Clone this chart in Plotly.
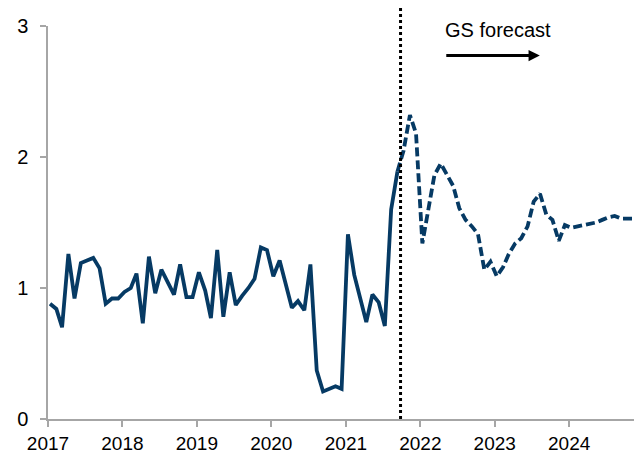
import pandas as pd
import plotly.graph_objects as go

# Monthly history, Jan 2017 - Sep 2021
actual_start = "2017-01"
actual_values = [
    0.88, 0.84, 0.70, 1.26, 0.92, 1.19, 1.21, 1.23, 1.15, 0.88, 0.92, 0.92,
    0.97, 1.00, 1.11, 0.73, 1.24, 0.96, 1.14, 1.04, 0.95, 1.18, 0.93, 0.93,
    1.12, 0.98, 0.77, 1.29, 0.78, 1.12, 0.87, 0.94, 1.00, 1.07, 1.31, 1.29,
    1.09, 1.21, 1.03, 0.85, 0.90, 0.83, 1.18, 0.37, 0.21, 0.23, 0.25, 0.23,
    1.41, 1.10, 0.92, 0.74, 0.95, 0.89, 0.71, 1.60, 1.89,
]

# GS forecast path, Sep 2021 - Nov 2024 (starts from the last actual)
forecast_start = "2021-09"
forecast_values = [
    1.89, 2.05, 2.32,
    2.18, 1.34, 1.62, 1.86, 1.95, 1.86, 1.78, 1.61, 1.52, 1.47, 1.41, 1.14,
    1.20, 1.09, 1.16, 1.26, 1.34, 1.38, 1.47, 1.66, 1.72, 1.56, 1.52, 1.36,
    1.48, 1.46, 1.47, 1.48, 1.49, 1.50, 1.52, 1.54, 1.55, 1.53, 1.53, 1.53,
]

forecast_marker = "2021-09-26"
year_ticks = list(range(2017, 2025))
y_ticks = [0, 1, 2, 3]

NAVY = "#063a64"
AXIS_GREY = "#a6a6a6"
FONT = "Liberation Sans, Arial, sans-serif"


def monthly(start, n):
    return pd.date_range(start, periods=n, freq="MS") + pd.Timedelta(days=10)


fig = go.Figure()
fig.add_trace(go.Scatter(
    x=monthly(actual_start, len(actual_values)), y=actual_values,
    mode="lines", line=dict(color=NAVY, width=3.8), showlegend=False,
))
fig.add_trace(go.Scatter(
    x=monthly(forecast_start, len(forecast_values)), y=forecast_values,
    mode="lines", line=dict(color=NAVY, width=3.8, dash="9px,4px"),
    showlegend=False,
))

fig.add_shape(
    type="line", xref="x", yref="paper",
    x0=forecast_marker, x1=forecast_marker, y0=0, y1=1.048,
    line=dict(color="black", width=3, dash="dot"),
)

fig.add_annotation(
    text="GS forecast", x="2023-01-18", y=2.97, xref="x", yref="y",
    showarrow=False, xanchor="center", yanchor="middle",
    font=dict(family=FONT, size=20, color="black"),
)
fig.add_annotation(
    text="", x="2023-08-10", y=2.774, ax="2022-05-01", ay=2.774,
    xref="x", yref="y", axref="x", ayref="y",
    showarrow=True, arrowhead=2, arrowsize=0.75, arrowwidth=3,
    arrowcolor="black", standoff=0,
)

axis_style = dict(
    showline=True, linecolor=AXIS_GREY, linewidth=1.5,
    ticks="outside", ticklen=6, tickcolor=AXIS_GREY, tickwidth=1.5,
    showgrid=False, zeroline=False,
)

fig.update_xaxes(
    type="date", range=["2017-01-01", "2024-11-14"],
    tickvals=[f"{y}-01-01" for y in year_ticks],
    ticktext=[str(y) for y in year_ticks],
    tickfont=dict(family=FONT, size=19, color="black"),
    **axis_style,
)
fig.update_yaxes(
    range=[0, 3], tickvals=y_ticks, ticktext=[str(v) for v in y_ticks],
    ticklabelstandoff=8,
    tickfont=dict(family=FONT, size=20, color="black"),
    **axis_style,
)

fig.update_layout(
    width=634, height=454,
    margin=dict(l=48, r=0, t=26, b=33),
    plot_bgcolor="white", paper_bgcolor="white",
    font=dict(family=FONT, size=20, color="black"),
)

fig.write_html("out.html")
